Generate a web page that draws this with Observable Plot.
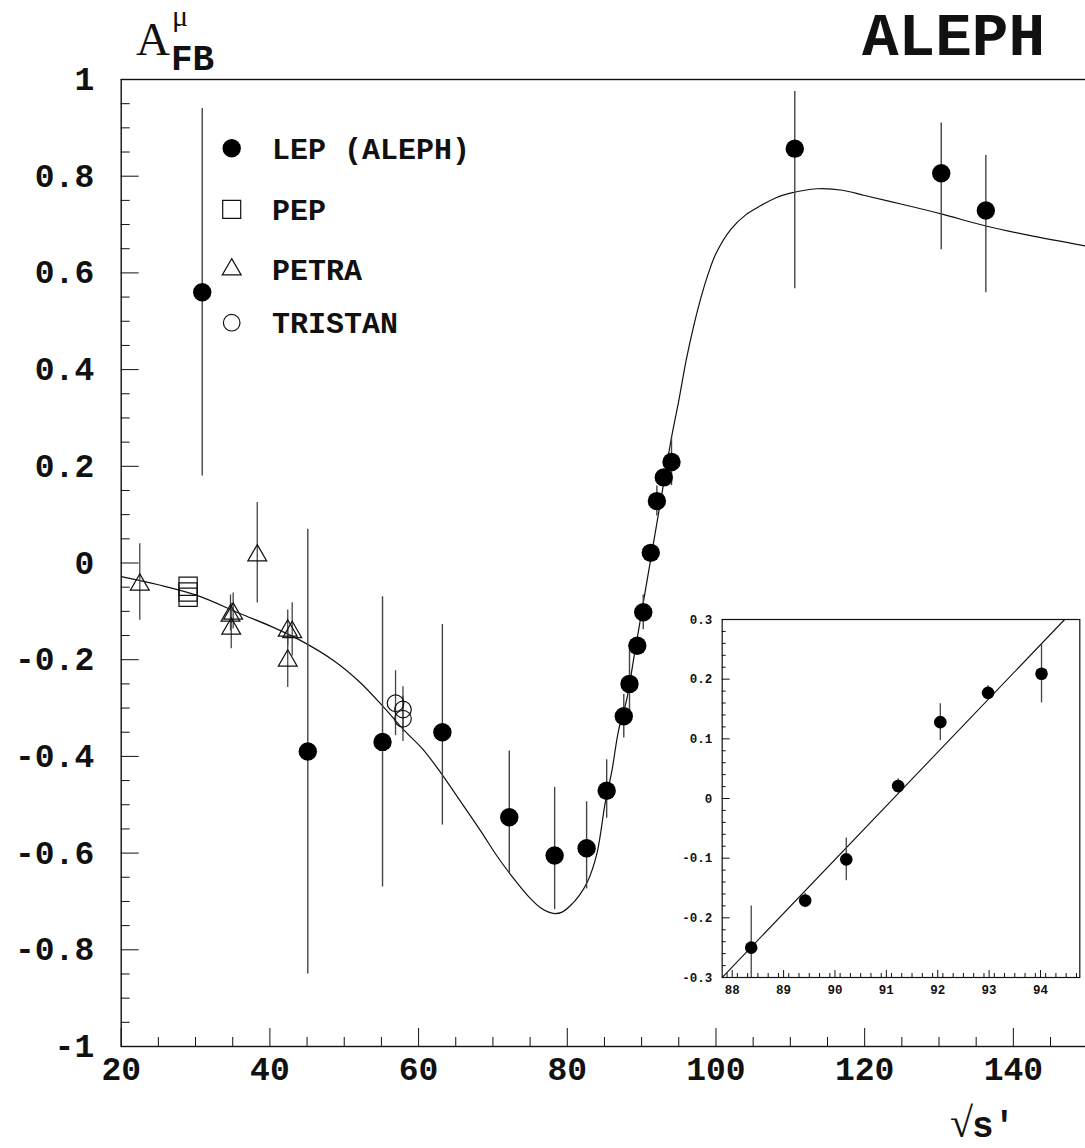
<!DOCTYPE html>
<html><head><meta charset="utf-8">
<script src="https://cdn.jsdelivr.net/npm/d3@7"></script>
<script src="https://cdn.jsdelivr.net/npm/@observablehq/plot@0.6"></script>
<style>
body{margin:0;background:#fff;}
#wrap{position:relative;width:1085px;height:1148px;overflow:hidden;background:#fff;}
#wrap svg{position:absolute;}
</style></head><body><div id="wrap"></div>
<script>
// ---- data ----
const lepX = [30.9, 45.1, 55.15, 63.2, 72.2, 78.3, 82.6, 85.3, 87.6, 88.37, 89.42, 90.22, 91.23, 92.05, 92.98, 94.02, 110.6, 130.3, 136.3];
const lepY = [0.56, -0.39, -0.37, -0.35, -0.526, -0.605, -0.59, -0.471, -0.317, -0.25, -0.171, -0.102, 0.021, 0.128, 0.177, 0.209, 0.857, 0.806, 0.729];
const lepUp = [0.38, 0.46, 0.30, 0.223, 0.137, 0.141, 0.096, 0.064, 0.045, 0.07, 0.012, 0.036, 0.012, 0.031, 0.012, 0.049, 0.118, 0.104, 0.114];
const lepDown = [0.38, 0.46, 0.30, 0.192, 0.116, 0.112, 0.084, 0.057, 0.045, 0.07, 0.012, 0.036, 0.012, 0.031, 0.012, 0.049, 0.29, 0.158, 0.17];

const pepX = [29.0, 29.0, 29.0];
const pepY = [-0.048, -0.060, -0.071];
const pepErr = [0.008, 0.008, 0.008];

const petraX = [22.5, 34.7, 35.06, 34.8, 38.3, 42.4, 43.0, 42.4];
const petraY = [-0.045, -0.109, -0.105, -0.136, 0.0155, -0.14, -0.143, -0.202];
const petraErr = [0.062, 0.02, 0.02, 0.03, 0.087, 0.02, 0.038, 0.044];

const tristanX = [56.9, 57.9, 57.9];
const tristanY = [-0.290, -0.303, -0.322];
const tristanErr = [0.05, 0.03, 0.03];

// theory curve
const curveX = [20, 25, 30.2, 36.05, 40, 44.1, 48.6, 52, 55.3, 58, 60.5, 62.9, 65.5, 68.3, 70.5, 72.8, 74.8, 76.4, 77.5, 78.3, 79.3, 80.4, 81.6, 82.7, 84.0, 85.1, 86.0, 86.9, 88.0, 89.0, 90.0, 91.0, 92.0, 93.0, 94.0, 95.0, 96.0, 97.0, 98.0, 99.0, 100.0, 102.0, 104.0, 106.0, 108.0, 110.0, 113.6, 117.0, 120.0, 125.0, 130.3, 136.3, 142.0, 150.0];
const curveY = [-0.028, -0.045, -0.067, -0.105, -0.13, -0.160, -0.202, -0.245, -0.298, -0.345, -0.384, -0.432, -0.49, -0.553, -0.605, -0.653, -0.69, -0.713, -0.722, -0.725, -0.722, -0.709, -0.688, -0.660, -0.60, -0.496, -0.43, -0.346, -0.282, -0.192, -0.102, -0.012, 0.078, 0.168, 0.258, 0.336, 0.42, 0.49, 0.55, 0.60, 0.64, 0.69, 0.72, 0.739, 0.755, 0.765, 0.774, 0.771, 0.76, 0.742, 0.722, 0.697, 0.678, 0.655];

// inset straight line
const insetLineX = [87.805, 94.47];
const insetLineY = [-0.3, 0.3];

// ticks
const xMajor = [20, 40, 60, 80, 100, 120, 140];
const xMinor = [25, 30, 35, 45, 50, 55, 65, 70, 75, 85, 90, 95, 105, 110, 115, 125, 130, 135, 145, 150];
const yMajor = [-1, -0.8, -0.6, -0.4, -0.2, 0, 0.2, 0.4, 0.6, 0.8, 1];
const yMinor = d3.range(-95, 100, 5).map(v => v / 100).filter(v => Math.abs((v * 5) - Math.round(v * 5)) > 1e-6);
const insetXMajor = [88, 89, 90, 91, 92, 93, 94];
const insetXMinor = d3.range(879, 948, 2).map(v => v / 10).filter(v => Math.abs(v - Math.round(v)) > 1e-6);
const insetYMajor = [-0.3, -0.2, -0.1, 0, 0.1, 0.2, 0.3];
const insetYMinor = d3.range(-28, 30, 2).map(v => v / 100).filter(v => Math.abs(v * 10 - Math.round(v * 10)) > 1e-6);

const legendNames = ["LEP (ALEPH)", "PEP", "PETRA", "TRISTAN"];

// ---- tables ----
const lep = lepX.map((x, i) => ({x, y: lepY[i], up: lepUp[i], down: lepDown[i]}));
const pep = pepX.map((x, i) => ({x, y: pepY[i], up: pepErr[i], down: pepErr[i]}));
const petra = petraX.map((x, i) => ({x, y: petraY[i], up: petraErr[i], down: petraErr[i]}));
const tristan = tristanX.map((x, i) => ({x, y: tristanY[i], up: tristanErr[i], down: tristanErr[i]}));
const curve = curveX.map((x, i) => ({x, y: curveY[i]}));
const insetLine = insetLineX.map((x, i) => ({x, y: insetLineY[i]}));

const fmt = d => Number.isInteger(d) ? String(d) : d.toFixed(1);
const MONO = "'Liberation Mono', 'DejaVu Sans Mono', monospace";
const ink = "#111";
const barInk = "#444";

function openBars(data, insetTop, insetBottom) {
  return [
    Plot.ruleX(data, {x: "x", y1: "y", y2: d => d.y + d.up, insetBottom: insetTop, stroke: barInk, strokeWidth: 1.3}),
    Plot.ruleX(data, {x: "x", y1: d => d.y - d.down, y2: "y", insetTop: insetBottom, stroke: barInk, strokeWidth: 1.3})
  ];
}

const main = Plot.plot({
  width: 1085, height: 1148,
  marginLeft: 120.7, marginRight: -2.2, marginTop: 79, marginBottom: 102,
  x: {domain: [20, 150]},
  y: {domain: [-1, 1]},
  style: {fontFamily: MONO, fontWeight: "bold", background: "transparent", color: ink},
  marks: [
    Plot.frame({stroke: ink, strokeWidth: 1.4}),
    Plot.axisY(yMinor, {tickSize: -9, fill: "none", label: null, stroke: ink}),
    Plot.axisY(yMajor, {tickSize: -18, fill: "none", label: null, stroke: ink}),
    Plot.axisY(yMajor, {tickSize: 0, tickPadding: 27, fontSize: 33, fontWeight: "bold", tickFormat: fmt, label: null, fill: ink}),
    Plot.axisX(xMinor, {tickSize: -9, fill: "none", label: null, stroke: ink}),
    Plot.axisX(xMajor, {tickSize: -18, fill: "none", label: null, stroke: ink}),
    Plot.axisX(xMajor, {tickSize: 0, tickPadding: 10, fontSize: 33, fontWeight: "bold", tickFormat: fmt, label: null, fill: ink}),
    Plot.line(curve, {x: "x", y: "y", curve: "catmull-rom", stroke: ink, strokeWidth: 1.2, clip: true}),
    Plot.ruleX(lep, {x: "x", y1: d => d.y - d.down, y2: d => d.y + d.up, stroke: barInk, strokeWidth: 1.4, clip: true}),
    ...openBars(petra, 11, 5.5),
    ...openBars(tristan, 8.3, 8.3),
    Plot.dot(pep, {x: "x", y: "y", symbol: "square", r: 10.3, fill: "none", stroke: ink, strokeWidth: 1.2}),
    Plot.dot(petra, {x: "x", y: "y", symbol: "triangle", r: 7, fill: "none", stroke: ink, strokeWidth: 1.2}),
    Plot.dot(tristan, {x: "x", y: "y", symbol: "circle", r: 8.3, fill: "none", stroke: ink, strokeWidth: 1.2}),
    Plot.dot(lep, {x: "x", y: "y", r: 9.2, fill: "#000", stroke: "none"})
  ]
});
main.style.left = "0px"; main.style.top = "0px";
document.getElementById("wrap").appendChild(main);

// ---- inset ----
const insetX0 = 87.805, insetX1 = 94.765;
const lepIn = lep.filter(d => d.x >= insetX0 && d.x <= insetX1);
const inset = Plot.plot({
  width: 425, height: 420,
  marginLeft: 61.7, marginRight: 5.7, marginTop: 19, marginBottom: 43,
  x: {domain: [insetX0, insetX1]},
  y: {domain: [-0.3, 0.3]},
  style: {fontFamily: MONO, fontWeight: "bold", background: "transparent", color: ink},
  marks: [
    Plot.frame({fill: "white", stroke: "none"}),
    Plot.line(insetLine, {x: "x", y: "y", stroke: ink, strokeWidth: 1.1, clip: true}),
    Plot.ruleX(lepIn, {x: "x", y1: d => d.y - d.down, y2: d => d.y + d.up, stroke: barInk, strokeWidth: 1.3, clip: true}),
    Plot.dot(lepIn, {x: "x", y: "y", r: 6.3, fill: "#000", stroke: "none"}),
    Plot.frame({stroke: ink, strokeWidth: 1.2}),
    Plot.axisY(insetYMinor, {tickSize: -4, fill: "none", label: null, stroke: ink}),
    Plot.axisY(insetYMajor, {tickSize: -8, fill: "none", label: null, stroke: ink}),
    Plot.axisY(insetYMajor, {tickSize: 0, tickPadding: 10, fontSize: 12.5, fontWeight: "bold", tickFormat: fmt, label: null, fill: ink}),
    Plot.axisX(insetXMinor, {tickSize: -4, fill: "none", label: null, stroke: ink}),
    Plot.axisX(insetXMajor, {tickSize: -7, fill: "none", label: null, stroke: ink}),
    Plot.axisX(insetXMajor, {tickSize: 0, tickPadding: 8, fontSize: 12.5, fontWeight: "bold", tickFormat: d => String(d), label: null, fill: ink})
  ]
});
inset.style.left = "660px"; inset.style.top = "600px";
document.getElementById("wrap").appendChild(inset);

// ---- overlay: titles + legend ----
const ov = d3.create("svg").attr("width", 1085).attr("height", 1148)
  .style("left", "0px").style("top", "0px").style("pointer-events", "none");

// y title  A^mu_FB
ov.append("text").attr("x", 136).attr("y", 55).attr("font-family", "'Liberation Serif', serif")
  .attr("font-size", 47).attr("fill", ink).text("A");
ov.append("text").attr("x", 172).attr("y", 26).attr("font-family", "'Liberation Serif', serif")
  .attr("font-size", 30).attr("fill", ink).text("μ");
ov.append("text").attr("x", 171).attr("y", 70).attr("font-family", MONO).attr("font-weight", "bold")
  .attr("font-size", 36).attr("fill", ink).text("FB");
// experiment name
ov.append("text").attr("x", 862).attr("y", 55).attr("font-family", MONO).attr("font-weight", "bold")
  .attr("font-size", 61).attr("fill", ink).text("ALEPH");
// x title  sqrt(s')
ov.append("text").attr("x", 950).attr("y", 1137).attr("font-family", "'Liberation Serif', serif")
  .attr("font-size", 42).attr("fill", ink).text("√");
ov.append("text").attr("x", 972).attr("y", 1137).attr("font-family", MONO).attr("font-weight", "bold")
  .attr("font-size", 36).attr("fill", ink).text("s'");

// legend
const lg = ov.append("g");
const legY = [148.3, 209.3, 269.5, 322.7];
const legSym = [d3.symbolCircle, d3.symbolSquare, d3.symbolTriangle, d3.symbolCircle];
const legFill = ["#000", "none", "none", "none"];
const legSize = [Math.PI * 9.2 * 9.2, 18 * 18, Math.PI * 7 * 7, Math.PI * 8.3 * 8.3];
legendNames.forEach((name, i) => {
  lg.append("path").attr("transform", `translate(231.7,${legY[i]})`)
    .attr("d", d3.symbol(legSym[i], legSize[i])())
    .attr("fill", legFill[i]).attr("stroke", i === 0 ? "none" : ink).attr("stroke-width", 1.2);
  lg.append("text").attr("x", 272).attr("y", legY[i]).attr("dy", "0.35em")
    .attr("font-family", MONO).attr("font-weight", "bold").attr("font-size", 30)
    .attr("fill", ink).text(name);
});
document.getElementById("wrap").appendChild(ov.node());
</script></body></html>
